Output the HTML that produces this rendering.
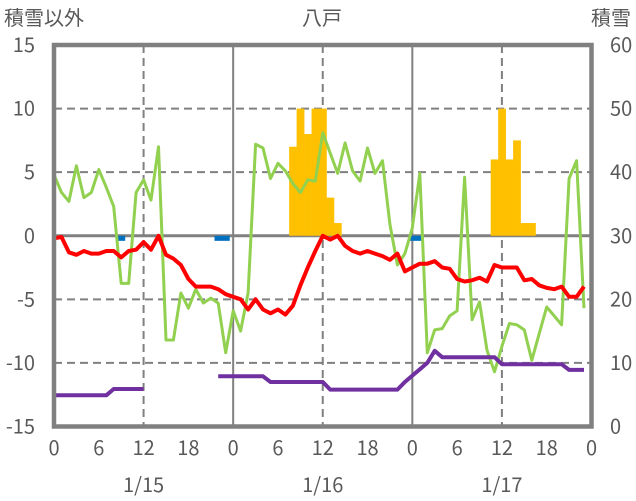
<!DOCTYPE html>
<html><head><meta charset="utf-8"><style>
html,body{margin:0;padding:0;background:#fff;}
svg{display:block;font-family:"Noto Sans CJK JP","Liberation Sans",sans-serif;}
</style></head><body>
<svg id="chart" width="636" height="501" viewBox="0 0 636 501" xmlns="http://www.w3.org/2000/svg">
<text x="4" y="25" font-size="20" fill="#595959">積雪以外</text>
<text x="322" y="25" font-size="20" fill="#595959" text-anchor="middle">八戸</text>
<text x="631" y="25" font-size="20" fill="#595959" text-anchor="end">積雪</text>
<g id="grid"></g><g id="bars"></g><g id="lines"></g><g id="frame"></g><g id="labels"></g>
</svg>
<script>
const hours = Array.from({length:72},(_,i)=>i);
const greenSeries = [4.8,3.4,2.7,5.5,3.0,3.4,5.2,3.8,2.3,-3.75,-3.75,3.4,4.4,2.8,7.0,-8.2,-8.2,-4.5,-5.7,-4.2,-5.3,-4.9,-5.3,-9.2,
 -5.9,-7.5,-4.5,7.2,6.9,4.5,5.7,5.1,4.1,3.4,4.4,4.3,8.1,6.5,4.9,7.3,5.1,4.3,6.9,4.9,5.9,0.9,-2.3,-1.4,
 0.6,4.9,-9.2,-7.4,-7.3,-6.3,-5.9,4.6,-6.6,-5.2,-9.0,-10.7,-8.7,-6.9,-7.0,-7.4,-9.8,-7.7,-5.6,-6.3,-7.0,4.5,5.9,-5.7];
const redSeries = [-0.2,-0.1,-1.3,-1.5,-1.2,-1.4,-1.4,-1.2,-1.2,-1.7,-1.2,-1.1,-0.5,-1.1,0.0,-1.5,-1.8,-2.3,-3.4,-4.0,-4.0,-4.0,-4.2,-4.6,
 -4.8,-5.0,-5.8,-5.0,-5.8,-6.1,-5.8,-6.2,-5.5,-3.9,-2.5,-1.2,0.0,-0.3,0.0,-0.8,-1.2,-1.4,-1.2,-1.4,-1.6,-1.9,-1.4,-2.8,
 -2.5,-2.2,-2.2,-2.0,-2.5,-2.6,-3.4,-3.6,-3.5,-3.3,-3.6,-2.3,-2.5,-2.5,-2.5,-3.5,-3.4,-3.9,-4.1,-4.2,-4.0,-4.8,-4.8,-4.0];
const purpleSeries = [-12.55,-12.55,-12.55,-12.55,-12.55,-12.55,-12.55,-12.55,-12.05,-12.05,-12.05,-12.05,-12.05,null,null,null,null,null,null,null,null,null,
 -11.05,-11.05,-11.05,-11.05,-11.05,-11.05,-11.05,-11.5,-11.5,-11.5,-11.5,-11.5,-11.5,-11.5,-11.5,-12.1,-12.1,-12.1,-12.1,-12.1,-12.1,-12.1,-12.1,-12.1,-12.1,
 -11.5,-11.0,-10.5,-10.0,-9.05,-9.55,-9.55,-9.55,-9.55,-9.55,-9.55,-9.55,-9.55,-10.1,-10.1,-10.1,-10.1,-10.1,-10.1,-10.1,-10.1,-10.1,-10.55,-10.55,-10.55];
const blueHours = [9,22,23,48,49];
const blueValues = [-0.4,-0.4,-0.4,-0.4,-0.4];
const snowHours = [32,33,34,35,36,37,38,59,60,61,62,63,64];
const snowValues = [44,50,46,50,50,36,32,42,50,42,45,32,32];
const leftTicks = [15,10,5,0,-5,-10,-15];
const rightTicks = [60,50,40,30,20,10,0];
const xTickHours = [0,6,12,18,24,30,36,42,48,54,60,66,72];
const xTickLabels = ["0","6","12","18","0","6","12","18","0","6","12","18","0"];
const dateLabels = ["1/15","1/16","1/17"];
const dateHours = [12,36,60];

const X0=54,X1=591.5,YT=45,YB=426.5;
const xS=h=>X0+(X1-X0)*h/72;
const yL=v=>YB-(v+15)/30*(YB-YT);
const yR=v=>YB-v/60*(YB-YT);
const NS="http://www.w3.org/2000/svg";
function mk(tag,attrs,parent){const e=document.createElementNS(NS,tag);for(const k in attrs)e.setAttribute(k,attrs[k]);parent.appendChild(e);return e;}
const grid=document.getElementById('grid'),bars=document.getElementById('bars'),lines=document.getElementById('lines'),frame=document.getElementById('frame'),labels=document.getElementById('labels');

leftTicks.forEach(v=>{
 if(v===15||v===-15)return;
 const l=mk('line',{x1:X0,x2:X1,y1:yL(v),y2:yL(v),stroke:'#808080','stroke-width':v===0?3:2,'stroke-dasharray':v===0?'':'8,5'},grid);
 
 
});
[12,24,36,48,60].forEach(h=>{
 const solid=(h%24===0);
 const l=mk('line',{x1:xS(h),x2:xS(h),y1:YT,y2:YB,stroke:'#808080','stroke-width':2,'stroke-dasharray':solid?'':'8,5'},grid);
 
 
});

const bw=(X1-X0)/72;
snowHours.forEach((h,i)=>{
 const y0=yR(30),y1=yR(snowValues[i]);
 const r=mk('rect',{x:xS(h)-bw/2,y:Math.min(y0,y1),width:bw+0.3,height:Math.abs(y0-y1),fill:'#ffc000'},bars);
 
 
});
blueHours.forEach((h,i)=>{
 const y0=yL(0),y1=yL(blueValues[i]);
 const r=mk('rect',{x:xS(h)-bw/2,y:y0,width:bw+0.3,height:y1-y0,fill:'#0070c0'},bars);
 
 
});

function path(series,color,w,name){
 let d='',pen=false;
 series.forEach((v,i)=>{if(v===null){pen=false;return;}d+=(pen?'L':'M')+xS(hours[i]).toFixed(1)+','+yL(v).toFixed(1);pen=true;});
 const p=mk('path',{d:d,fill:'none',stroke:color,'stroke-width':w,'stroke-linejoin':'round'},lines);
 
 
}
path(greenSeries,'#92d050',3,'green-series-line');
path(purpleSeries,'#7030a0',4,'purple-series-line');
path(redSeries,'#ff0000',4,'red-series-line');

const fr=mk('rect',{x:X0,y:YT,width:X1-X0,height:YB-YT,fill:'none',stroke:'#808080','stroke-width':4.5},frame);



leftTicks.forEach(v=>{
 const t=mk('text',{x:35,y:yL(v)+7,'font-size':20,fill:'#595959','text-anchor':'end'},labels);t.textContent=v;
 
 
});
rightTicks.forEach(v=>{
 const t=mk('text',{x:610,y:yR(v)+7,'font-size':20,fill:'#595959'},labels);t.textContent=v;
 
 
});
xTickHours.forEach((h,i)=>{
 const t=mk('text',{x:xS(h),y:455,'font-size':20,fill:'#595959','text-anchor':'middle'},labels);t.textContent=xTickLabels[i];
 
 
});
dateHours.forEach((h,i)=>{
 const t=mk('text',{x:xS(h),y:492,'font-size':20,fill:'#595959','text-anchor':'middle'},labels);t.textContent=dateLabels[i];
 
 
});
</script>
</body></html>
